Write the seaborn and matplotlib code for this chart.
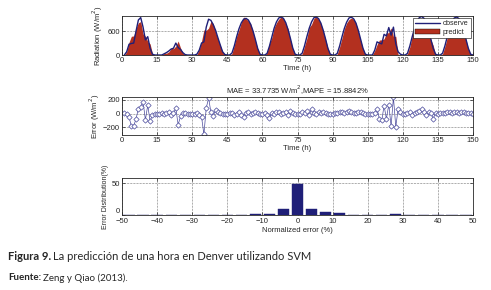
import numpy as np
import pandas as pd
import matplotlib
matplotlib.use("Agg")
import matplotlib.pyplot as plt
import seaborn as sns
from matplotlib.patches import Patch
from matplotlib.lines import Line2D

sns.set_style("ticks")
plt.rcParams['font.family'] = ['Liberation Sans', 'DejaVu Sans']
plt.rcParams['axes.linewidth'] = 0.6
plt.rcParams['xtick.direction'] = 'in'
plt.rcParams['ytick.direction'] = 'in'
plt.rcParams['xtick.major.size'] = 2
plt.rcParams['ytick.major.size'] = 2
plt.rcParams['xtick.major.width'] = 0.5
plt.rcParams['ytick.major.width'] = 0.5

# DATA (10 days x 15 daylight hours)
hours = np.arange(1, 151)

observe = [
    0, 80, 270, 290, 300, 600, 880, 940, 700, 380, 460, 170, 20, 0, 0,
    0, 0, 30, 60, 100, 150, 170, 300, 190, 140, 60, 10, 0, 0, 0,
    0, 20, 120, 300, 330, 700, 900, 870, 760, 620, 430, 250, 80, 10, 0,
    0, 50, 230, 460, 660, 810, 900, 920, 880, 770, 600, 390, 160, 20, 0,
    0, 40, 220, 450, 670, 830, 930, 955, 920, 810, 630, 410, 170, 20, 0,
    0, 45, 230, 460, 670, 830, 935, 955, 915, 800, 620, 400, 165, 20, 0,
    0, 40, 225, 455, 665, 825, 930, 950, 910, 800, 615, 395, 165, 20, 0,
    0, 0, 120, 330, 300, 280, 520, 480, 690, 500, 700, 280, 80, 20, 0,
    0, 40, 225, 455, 670, 830, 935, 970, 925, 810, 625, 400, 165, 20, 0,
    0, 45, 230, 460, 670, 830, 930, 955, 915, 805, 620, 400, 170, 20, 0,
]

predict = [
    0, 80, 320, 470, 480, 675, 810, 840, 530, 470, 340, 280, 40, 0, 0,
    0, 0, 40, 45, 80, 165, 160, 224, 352, 180, 45, 5, 0, 0, 0,
    0, 10, 140, 350, 630, 620, 675, 850, 790, 570, 410, 240, 80, 20, 0,
    0, 35, 250, 470, 635, 825, 955, 910, 860, 780, 585, 365, 155, 20, 0,
    0, 60, 285, 435, 680, 810, 900, 960, 910, 785, 655, 375, 155, 20, 0,
    10, 25, 220, 420, 690, 770, 920, 965, 895, 790, 595, 395, 175, 20, 0,
    0, 25, 205, 425, 655, 805, 890, 930, 895, 795, 590, 365, 155, 20, 0,
    0, 0, 110, 263, 376, 380, 406, 556, 560, 681, 465, 470, 13, 0, 0,
    0, 30, 205, 475, 655, 805, 895, 900, 905, 825, 600, 385, 241, 10, 0,
    0, 30, 220, 440, 645, 820, 910, 925, 900, 785, 595, 390, 155, 15, 0,
]

error = [
    10, 0, -50, -180, -180, -75, 70, 100, 170, -90, 120, -110, -20, 0, 0,
    0, 5, -10, 15, 20, -15, 10, 76, -162, -40, 15, 5, 0, 0, 0,
    0, 10, -20, -50, -300, 80, 225, 20, -30, 50, 20, 10, 0, -10, 0,
    5, 15, -20, -10, 25, -15, -55, 10, 20, -10, 15, 25, 5, 0, 0,
    10, -20, -65, 15, -10, 20, 30, -5, 10, 25, -25, 35, 15, 0, 0,
    -10, 20, 10, 40, -20, 60, 15, -10, 20, 10, 25, 5, -10, 0, 0,
    10, 15, 20, 30, 10, 20, 40, 20, 15, 5, 25, 30, 10, 0, 0,
    0, 0, 10, 67, -76, -100, 114, -76, 130, -181, 235, -190, 67, 20, 0,
    0, 10, 20, -20, 15, 25, 40, 70, 20, -15, 25, 15, -76, 10, 0,
    5, 15, 10, 20, 25, 10, 20, 30, 15, 20, 25, 10, 15, 5, 0,
]

bin_centers = [-48, -44, -40, -36, -32, -28, -24, -20, -16, -12, -8, -4, 0,
               4, 8, 12, 16, 20, 24, 28, 32, 36, 40, 44, 48]
bin_share = [0.4, 0.4, 0.4, 0.4, 0.4, 0.4, 0.4, 0.4, 0.4, 2.0, 2.2, 9.7, 49.0,
             9.1, 4.8, 3.8, 0.6, 0.6, 0.6, 2.0, 0.5, 0.4, 0.4, 0.4, 0.4]

NAVY = '#1f1f78'
RED = '#b3301f'
ERR = '#4a4a9c'

df = pd.DataFrame({'hour': hours, 'observe': observe,
                   'predict': predict, 'error': error})
dist = pd.DataFrame({'center': bin_centers, 'share': bin_share})

fig = plt.figure(figsize=(4.91, 2.90), dpi=100)
left, width = 122 / 491, 351 / 491
ax1 = fig.add_axes([left, 1 - 55 / 290, width, 39 / 290])
ax2 = fig.add_axes([left, 1 - 135 / 290, width, 38 / 290])
ax3 = fig.add_axes([left, 1 - 215 / 290, width, 37 / 290])

fs = 5.5
grid_kw = dict(color='black', linestyle=':', linewidth=0.4)

# radiation panel
ax1.fill_between(df['hour'], df['predict'], color=RED, linewidth=0)
sns.lineplot(data=df, x='hour', y='observe', ax=ax1, color=NAVY, linewidth=1.0)
ax1.set_xlim(0, 150)
ax1.set_ylim(0, 980)
ax1.set_xticks(range(0, 151, 15))
ax1.set_yticks([0, 600])
ax1.set_xlabel('Time (h)', fontsize=fs, labelpad=1)
ax1.set_ylabel('Radiation (W/m$^2$)', fontsize=fs, labelpad=2)
handles = [Line2D([0], [0], color=NAVY, linewidth=1.0),
           Patch(facecolor=RED, edgecolor='black', linewidth=0.3)]
leg = ax1.legend(handles, ['observe', 'predict'], loc='upper right',
                 fontsize=5.2, frameon=True, fancybox=False, borderpad=0.3,
                 handlelength=3.4, handletextpad=0.4, labelspacing=0.2,
                 borderaxespad=0.3)
leg.get_frame().set_edgecolor('black')
leg.get_frame().set_linewidth(0.4)
leg.get_frame().set_alpha(1)

# error panel
sns.lineplot(data=df, x='hour', y='error', ax=ax2, color=ERR, linewidth=0.5,
             marker='D', markersize=2.7, markerfacecolor='white',
             markeredgecolor=ERR, markeredgewidth=0.5)
ax2.set_xlim(0, 150)
ax2.set_ylim(-310, 240)
ax2.set_xticks(range(0, 151, 15))
ax2.set_yticks([-200, 0, 200])
ax2.set_xlabel('Time (h)', fontsize=fs, labelpad=1)
ax2.set_ylabel('Error (W/m$^2$)', fontsize=fs, labelpad=1)
ax2.set_title('MAE = 33.7735 W/m$^2$,MAPE = 15.8842%', fontsize=fs, pad=2)

# error distribution panel
sns.barplot(data=dist, x='center', y='share', native_scale=True, width=0.8,
            color=NAVY, saturation=1, errorbar=None, ax=ax3,
            edgecolor=NAVY, linewidth=0.3)
ax3.set_xlim(-50, 50)
ax3.set_ylim(0, 58)
ax3.set_xticks(range(-50, 51, 10))
ax3.set_yticks([0, 50])
ax3.set_xlabel('Normalized error (%)', fontsize=fs, labelpad=1)
ax3.set_ylabel('Error Distribution(%)', fontsize=fs - 0.5, labelpad=2)

for ax in (ax1, ax2, ax3):
    ax.grid(True, **grid_kw)
    ax.set_axisbelow(True)
    ax.tick_params(labelsize=fs, pad=1.5, top=True, right=True)
    for s in ax.spines.values():
        s.set_visible(True)
        s.set_linewidth(0.6)
ax3.tick_params(axis='x', pad=2.5)
ax3.get_yticklabels()[0].set_va('bottom')

cap_font = ['Lato', 'DejaVu Sans']
t1 = fig.text(8 / 491, 1 - 257 / 290, 'Figura 9.', fontsize=8, fontweight='bold',
              family=cap_font, va='center')
fig.text(53 / 491, 1 - 257 / 290,
         'La predicción de una hora en Denver utilizando SVM',
         fontsize=8, family=cap_font, va='center')
fig.text(8 / 491, 1 - 278 / 290, 'Fuente:', fontsize=7, fontweight='bold',
         family=cap_font, va='center')
fig.text(43 / 491, 1 - 278 / 290, 'Zeng y Qiao (2013).', fontsize=7,
         family=cap_font, va='center')

fig.savefig('out.png', dpi=100)
